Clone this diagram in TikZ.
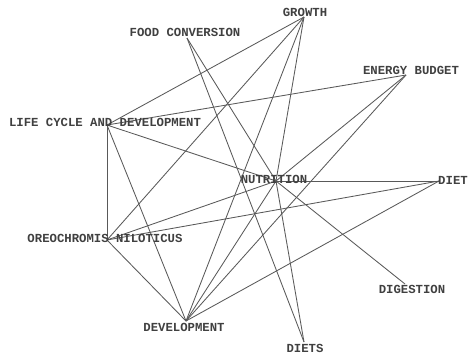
\documentclass[tikz,border=0pt]{standalone}
\usepackage{fontspec}
\setmonofont{Liberation Mono}
\begin{document}
\begin{tikzpicture}[x=1pt,y=-1pt,
  term/.style={font=\ttfamily\bfseries\fontsize{12.3}{12.3}\selectfont, text=black!75, inner sep=0pt, anchor=center},
  link/.style={draw=black!65, line width=0.85pt}]
\useasboundingbox (0,0) rectangle (468,356);
% vertex points where the links meet
\coordinate (growth) at (304,17);
\coordinate (food) at (187,38);
\coordinate (energy) at (406,75);
\coordinate (life) at (107,125);
\coordinate (nutrition) at (276,181);
\coordinate (diet) at (439,181);
\coordinate (oreo) at (107,240);
\coordinate (digestion) at (405,284);
\coordinate (development) at (186,321);
\coordinate (diets) at (304,342);
% links
\foreach \a/\b in {growth/life, growth/oreo, growth/development, growth/nutrition,
  food/nutrition, food/diets,
  energy/life, energy/nutrition, energy/development,
  life/nutrition, life/oreo, life/development,
  nutrition/diet, nutrition/oreo, nutrition/digestion, nutrition/diets, nutrition/development,
  oreo/diet, oreo/development, diet/development}
  \draw[link] (\a) -- (\b);
% labels
\node[term] (growthL) at (305,12) {GROWTH};
\node[term] (foodL) at (185,32) {FOOD CONVERSION};
\node[term] (energyL) at (411,70) {ENERGY BUDGET};
\node[term] (lifeL) at (105,122) {LIFE CYCLE AND DEVELOPMENT};
\node[term] (nutritionL) at (274,179) {NUTRITION};
\node[term] (dietL) at (453,180) {DIET};
\node[term] (oreoL) at (105,238) {OREOCHROMIS NILOTICUS};
\node[term] (digestionL) at (412,289) {DIGESTION};
\node[term] (developmentL) at (184,327) {DEVELOPMENT};
\node[term] (dietsL) at (305,348) {DIETS};
\end{tikzpicture}
\end{document}
